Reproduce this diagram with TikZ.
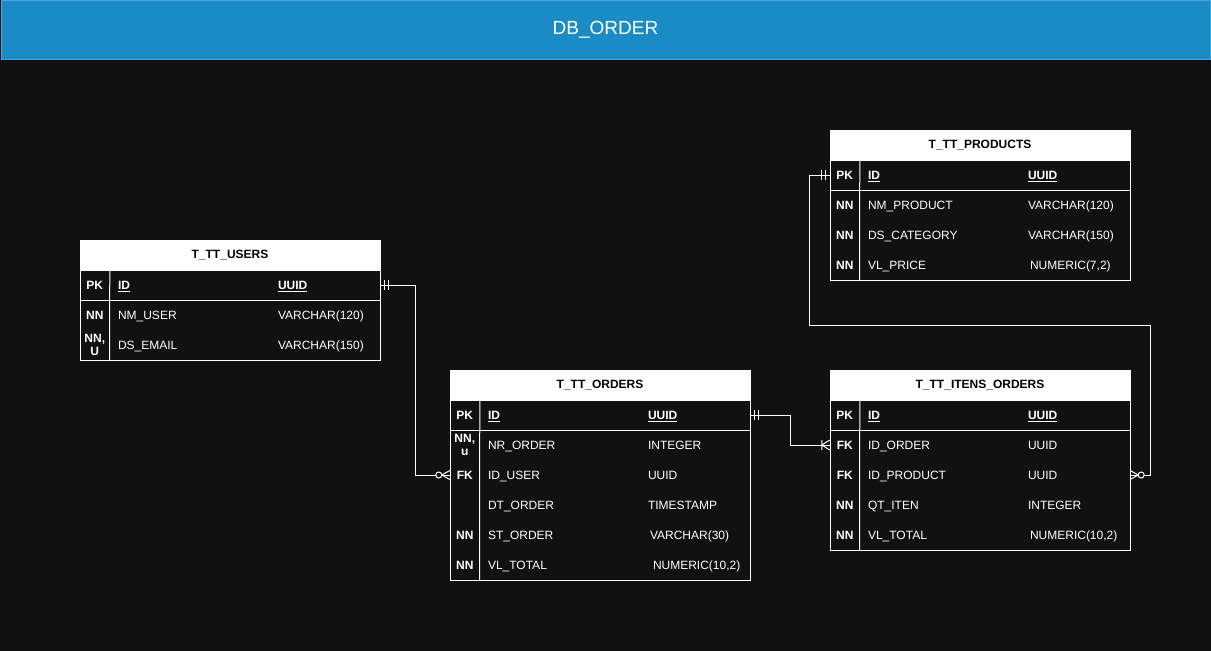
\documentclass[tikz,border=0pt]{standalone}
\usepackage{fontspec}
\setmainfont{Liberation Sans}
\usetikzlibrary{positioning}

\definecolor{bgdark}{RGB}{17,17,17}
\definecolor{titleblue}{RGB}{27,139,197}
\definecolor{titleedge}{RGB}{70,166,228}

\tikzset{
    mand one/.pic={\draw[link] (4,-5) -- (4,5) (8,-5) -- (8,5);},
    zero many/.pic={\draw[link] (0,-4.5) -- (8,0) -- (0,4.5);
                    \draw[link,fill=bgdark] (11,0) circle (3);},
    one many/.pic={\draw[link] (0,-5) -- (8,0) -- (0,5) (8,-5) -- (8,5);}
}

\begin{document}
\begin{tikzpicture}[x=1pt,y=-1pt,
        font=\fontsize{12}{13}\selectfont,
        link/.style={draw=white,line width=1pt},
        hdr/.style={draw=white,fill=white,text=black,minimum width=300pt,minimum height=30pt,
            inner sep=0pt,font=\fontsize{12}{13}\selectfont\bfseries},
        tbl/.style={draw=white,fill=bgdark,line width=1pt,minimum width=300pt,inner sep=0pt},
        row/.style={minimum width=300pt,minimum height=30pt,inner sep=0pt},
        keycol/.style={text=white,align=center,inner sep=0pt,font=\fontsize{12}{13}\selectfont\bfseries},
        fld/.style={text=white,anchor=west,inner sep=0pt,text height=8.6pt,text depth=0pt}]

    \useasboundingbox (0,0) rectangle (1211,651);
    \fill[bgdark] (0,0) rectangle (1211,651);

    % title bar
    \node[draw=titleedge,fill=titleblue,line width=1pt,minimum width=1209pt,minimum height=59pt,
        text=white,font=\fontsize{19}{21}\selectfont] (title) at (605.5,30) {DB\_ORDER};

    % T_TT_USERS
    \node[tbl,minimum height=90pt] (users-body) at (230,315) {};
    \node[hdr] (users) at (230,255) {T\_TT\_USERS};
    \foreach \k/\f/\t [count=\i] in {PK/\underline{\textbf{ID}}/\underline{\textbf{UUID}},
            NN/NM\_USER/VARCHAR(120), {NN,\\U}/DS\_EMAIL/VARCHAR(150)} {
        \node[row] (users-\i) at (230,255+30*\i) {};
        \node[keycol] at ([xshift=15pt]users-\i.west) {\k};
        \node[fld] at ([xshift=38pt]users-\i.west) {\f};
        \node[fld] at ([xshift=198pt]users-\i.west) {\t};
    }
    \draw[link] (users-1.south west) -- (users-1.south east);
    \draw[link] ([xshift=30pt]users-1.north west) -- ([xshift=30pt]users-body.south west);

    % T_TT_ORDERS
    \node[tbl,minimum height=180pt] (orders-body) at (600,490) {};
    \node[hdr] (orders) at (600,385) {T\_TT\_ORDERS};
    \foreach \k/\f/\t [count=\i] in {PK/\underline{\textbf{ID}}/\underline{\textbf{UUID}},
            {NN,\\u}/NR\_ORDER/INTEGER, FK/ID\_USER/UUID, {}/DT\_ORDER/TIMESTAMP,
            NN/ST\_ORDER/{\hspace{2pt}VARCHAR(30)}, NN/VL\_TOTAL/{\hspace{5pt}NUMERIC(10,2)}} {
        \node[row] (orders-\i) at (600,385+30*\i) {};
        \node[keycol] at ([xshift=15pt]orders-\i.west) {\k};
        \node[fld] at ([xshift=38pt]orders-\i.west) {\f};
        \node[fld] at ([xshift=198pt]orders-\i.west) {\t};
    }
    \draw[link] (orders-1.south west) -- (orders-1.south east);
    \draw[link] ([xshift=30pt]orders-1.north west) -- ([xshift=30pt]orders-body.south west);

    % T_TT_PRODUCTS
    \node[tbl,minimum height=120pt] (products-body) at (980,220) {};
    \node[hdr] (products) at (980,145) {T\_TT\_PRODUCTS};
    \foreach \k/\f/\t [count=\i] in {PK/\underline{\textbf{ID}}/\underline{\textbf{UUID}},
            NN/NM\_PRODUCT/VARCHAR(120), NN/DS\_CATEGORY/VARCHAR(150),
            NN/VL\_PRICE/{\hspace{2pt}NUMERIC(7,2)}} {
        \node[row] (products-\i) at (980,145+30*\i) {};
        \node[keycol] at ([xshift=15pt]products-\i.west) {\k};
        \node[fld] at ([xshift=38pt]products-\i.west) {\f};
        \node[fld] at ([xshift=198pt]products-\i.west) {\t};
    }
    \draw[link] (products-1.south west) -- (products-1.south east);
    \draw[link] ([xshift=30pt]products-1.north west) -- ([xshift=30pt]products-body.south west);

    % T_TT_ITENS_ORDERS
    \node[tbl,minimum height=150pt] (itens-body) at (980,475) {};
    \node[hdr] (itens) at (980,385) {T\_TT\_ITENS\_ORDERS};
    \foreach \k/\f/\t [count=\i] in {PK/\underline{\textbf{ID}}/\underline{\textbf{UUID}},
            FK/ID\_ORDER/UUID, FK/ID\_PRODUCT/UUID, NN/QT\_ITEN/INTEGER,
            NN/VL\_TOTAL/{\hspace{2pt}NUMERIC(10,2)}} {
        \node[row] (itens-\i) at (980,385+30*\i) {};
        \node[keycol] at ([xshift=15pt]itens-\i.west) {\k};
        \node[fld] at ([xshift=38pt]itens-\i.west) {\f};
        \node[fld] at ([xshift=198pt]itens-\i.west) {\t};
    }
    \draw[link] (itens-1.south west) -- (itens-1.south east);
    \draw[link] ([xshift=30pt]itens-1.north west) -- ([xshift=30pt]itens-body.south west);

    % relations
    \draw[link] (users-1.east) -- ++(35,0) |- (orders-3.west);
    \pic at (users-1.east) {mand one};
    \pic[rotate=180] at (orders-3.west) {zero many};

    \draw[link] (orders-1.east) -- ++(40,0) |- (itens-2.west);
    \pic at (orders-1.east) {mand one};
    \pic[rotate=180] at (itens-2.west) {one many};

    \coordinate (bend) at (1150,325);
    \draw[link] (products-1.west) -- ++(-20,0) |- (bend) |- (itens-3.east);
    \pic[rotate=180] at (products-1.west) {mand one};
    \pic at (itens-3.east) {zero many};

\end{tikzpicture}
\end{document}
